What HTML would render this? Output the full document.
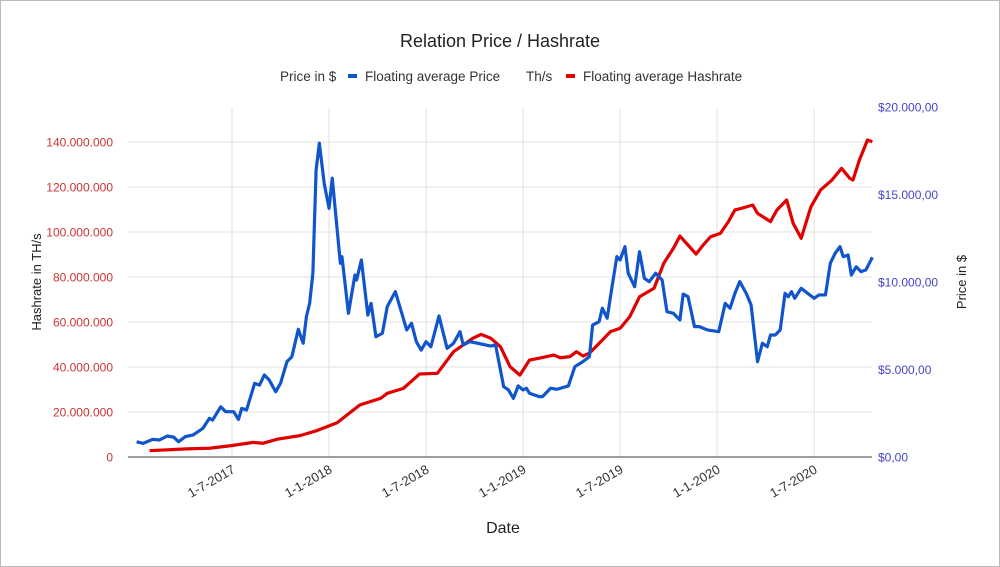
<!DOCTYPE html>
<html><head><meta charset="utf-8"><style>
body{margin:0;background:#fff;}
svg{display:block;font-family:"Liberation Sans",Roboto,sans-serif;}
</style></head><body>
<svg id="chart" width="1000" height="567" viewBox="0 0 1000 567">
<rect x="0.5" y="0.5" width="999" height="566" fill="#fff" stroke="#bbb"/>
<text x="500" y="47" text-anchor="middle" font-size="18" fill="#222">Relation Price / Hashrate</text>
<g font-size="13.5" fill="#333">
<text x="280" y="81">Price in $</text>
<rect x="348" y="74" width="9" height="4" fill="#1155cc"/>
<text x="365" y="81">Floating average Price</text>
<text x="526" y="81">Th/s</text>
<rect x="566" y="74" width="9" height="4" fill="#e00000"/>
<text x="583" y="81">Floating average Hashrate</text>
</g>
<g id="grid"></g>
<g id="axes"></g>
<g id="series"></g>
<text x="0" y="0" transform="translate(41,282) rotate(-90)" text-anchor="middle" font-size="13" fill="#222">Hashrate in TH/s</text>
<text x="0" y="0" transform="translate(966,282) rotate(-90)" text-anchor="middle" font-size="13" fill="#222">Price in $</text>
<text x="503" y="533" text-anchor="middle" font-size="16" fill="#222">Date</text>
</svg>
<script>
// months since 1 Jan 2017
const priceMonths=[0.1,0.5,1.1,1.5,2.0,2.4,2.7,3.1,3.6,4.2,4.6,4.8,5.3,5.6,6.1,6.4,6.6,6.9,7.4,7.7,8.0,8.3,8.7,9.0,9.4,9.7,10.1,10.4,10.6,10.8,11.0,11.2,11.4,11.7,12.0,12.2,12.7,12.8,13.2,13.6,13.7,14.0,14.4,14.6,14.9,15.3,15.6,16.1,16.5,16.8,17.1,17.4,17.7,18.0,18.3,18.8,19.3,19.7,20.1,20.3,20.7,21.2,22.0,22.3,22.8,23.1,23.4,23.7,24.0,24.2,24.4,25.0,25.2,25.7,26.1,26.8,27.2,27.7,28.1,28.3,28.7,28.9,29.2,29.5,29.8,30.0,30.3,30.5,30.9,31.2,31.5,31.8,32.2,32.6,32.9,33.3,33.7,33.9,34.2,34.6,34.9,35.4,36.1,36.5,36.8,37.1,37.4,37.8,38.1,38.5,38.8,39.1,39.3,39.6,39.9,40.2,40.4,40.6,40.8,41.2,41.6,42.0,42.3,42.7,43.0,43.3,43.6,43.8,44.1,44.3,44.6,44.9,45.2,45.6];
const priceValues=[870,780,1010,970,1200,1130,870,1160,1260,1640,2210,2110,2870,2590,2590,2150,2780,2690,4210,4110,4690,4400,3730,4210,5450,5730,7300,6500,8020,8780,10500,16400,17930,15640,14210,15930,11070,11450,8210,10400,10110,11260,8110,8780,6870,7070,8590,9450,8210,7260,7640,6590,6110,6590,6300,8060,6210,6500,7160,6400,6590,6500,6340,6400,4020,3830,3350,4060,3830,3930,3640,3450,3450,3930,3870,4060,5160,5450,5730,7540,7730,8500,7930,9730,11450,11260,12020,10500,9730,11730,10210,10020,10500,10110,8300,8210,7830,9310,9160,7450,7450,7260,7160,8780,8500,9350,10020,9350,8690,5450,6500,6300,6970,6970,7260,9350,9160,9450,9070,9640,9350,9070,9260,9260,11070,11640,12020,11450,11540,10400,10870,10590,10690,11410];
const hashMonths=[0.9,3.2,4.6,5.9,7.3,7.9,8.8,10.2,11.2,12.5,13.9,15.2,15.6,16.6,17.6,18.7,19.7,20.1,20.9,21.4,22.0,22.6,23.2,23.8,24.4,25.0,25.9,26.3,26.9,27.3,27.7,28.1,28.8,29.4,30.0,30.6,31.2,32.1,32.7,33.3,33.7,34.1,34.7,35.1,35.6,36.2,36.7,37.1,37.5,38.2,38.5,39.3,39.7,40.3,40.7,41.2,41.8,42.4,43.1,43.7,44.2,44.4,44.8,45.3,45.6];
const hashValues=[2.8,3.6,3.9,5.0,6.5,6.1,7.9,9.5,11.6,15.2,23.1,26.1,28.3,30.5,36.9,37.2,46.8,48.8,52.8,54.5,52.8,49.0,40.1,36.4,43.1,43.9,45.3,44.1,44.6,46.8,44.9,46.1,51.2,55.7,57.2,62.4,71.2,75.0,86.1,92.8,98.2,95.0,90.2,93.9,97.9,99.4,104.6,109.8,110.5,112.0,108.3,104.6,109.8,114.2,103.9,97.2,111.2,118.7,123.1,128.3,123.9,123.1,132.0,140.9,140.1]; // millions TH/s
const leftTicks=[0,20,40,60,80,100,120,140];
const leftTickLabels=["0","20.000.000","40.000.000","60.000.000","80.000.000","100.000.000","120.000.000","140.000.000"];
const rightTicks=[0,5000,10000,15000,20000];
const rightTickLabels=["$0,00","$5.000,00","$10.000,00","$15.000,00","$20.000,00"];
const xTicks=[6,12,18,24,30,36,42];
const xTickLabels=["1-7-2017","1-1-2018","1-7-2018","1-1-2019","1-7-2019","1-1-2020","1-7-2020"];

const NS="http://www.w3.org/2000/svg";
const X0=128,X1=872,Y0=457;
function xScale(m){return 135+m*16.17;}
function yLeft(v){return Y0-v*2.25;}          // millions
function yRight(v){return Y0-v*0.0175;}
function mk(tag,attrs,parent){const e=document.createElementNS(NS,tag);for(const k in attrs)e.setAttribute(k,attrs[k]);parent.appendChild(e);return e;}
const grid=document.getElementById('grid'),axes=document.getElementById('axes'),series=document.getElementById('series');

leftTicks.forEach((t,i)=>{
  const y=yLeft(t);
  if(i>0){const l=mk('line',{x1:X0,x2:X1,y1:y,y2:y,stroke:'#e0e0e0','stroke-width':1},grid);
  
  }
  const tx=mk('text',{x:113,y:y+4.5,'text-anchor':'end','font-size':12,fill:'#cc3333'},axes);
  tx.textContent=leftTickLabels[i];
  
  
});
rightTicks.forEach((t,i)=>{
  const tx=mk('text',{x:878,y:yRight(t)+4.5,'font-size':12,fill:'#4444cc'},axes);
  tx.textContent=rightTickLabels[i];
  
  
});
xTicks.forEach((m,i)=>{
  const x=xScale(m);
  const l=mk('line',{x1:x,x2:x,y1:108,y2:Y0,stroke:'#e0e0e0','stroke-width':1},grid);
  
  
  const tx=mk('text',{x:0,y:0,'text-anchor':'end','font-size':13,fill:'#333',transform:`translate(${x+4},${472}) rotate(-30)`},axes);
  tx.textContent=xTickLabels[i];
  
  
});
const base=mk('line',{x1:X0,x2:X1,y1:Y0,y2:Y0,stroke:'#666','stroke-width':1.2},axes);



const hp=mk('polyline',{points:hashMonths.map((m,i)=>xScale(m)+','+yLeft(hashValues[i])).join(' '),fill:'none',stroke:'#e00000','stroke-width':3.2,'stroke-linejoin':'round'},series);


const pp=mk('polyline',{points:priceMonths.map((m,i)=>xScale(m)+','+yRight(priceValues[i])).join(' '),fill:'none',stroke:'#1155cc','stroke-width':3.2,'stroke-linejoin':'round'},series);


</script>
</body></html>
